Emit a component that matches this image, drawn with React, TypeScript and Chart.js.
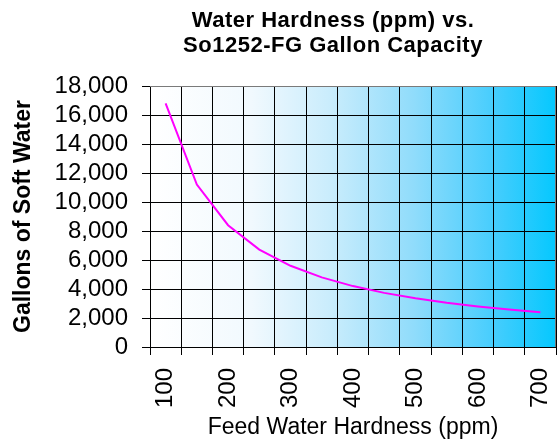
import React, { useEffect, useRef } from 'react';
import { Chart, registerables } from 'chart.js';

Chart.register(...registerables);

const categories = ['100', '150', '200', '250', '300', '350', '400', '450', '500', '550', '600', '650', '700'];
const gallons = [16800, 11200, 8400, 6720, 5600, 4800, 4200, 3733, 3360, 3055, 2800, 2585, 2400];
const xTickLabels = ['100', '200', '300', '400', '500', '600', '700'];
const yMin = 0;
const yMax = 18000;
const yStep = 2000;
const titleLines = ['Water Hardness (ppm) vs.', 'So1252-FG Gallon Capacity'];
const xTitle = 'Feed Water Hardness (ppm)';
const yTitle = 'Gallons of Soft Water';

const FONT = "'Liberation Sans', Arial, Helvetica, sans-serif";

const bgPlugin = {
  id: 'bgGradient',
  beforeDraw(chart: any) {
    const { ctx, chartArea: a, width, height } = chart;
    ctx.save();
    ctx.fillStyle = '#ffffff';
    ctx.fillRect(0, 0, width, height);
    const g = ctx.createLinearGradient(a.left, 0, a.right, 0);
    g.addColorStop(0, '#ffffff');
    g.addColorStop(0.25, '#f1f9fe');
    g.addColorStop(0.45, '#c8ecfc');
    g.addColorStop(0.65, '#90dcfb');
    g.addColorStop(0.85, '#45cdfd');
    g.addColorStop(1, '#05c8fe');
    ctx.fillStyle = g;
    ctx.fillRect(a.left, a.top, a.right - a.left, a.bottom - a.top);
    ctx.restore();
  },
};

const framePlugin = {
  id: 'frameAndTitle',
  afterDraw(chart: any) {
    const { ctx, chartArea: a } = chart;
    ctx.save();
    ctx.strokeStyle = '#7a7a7a';
    ctx.lineWidth = 1;
    ctx.beginPath();
    ctx.moveTo(a.left, Math.round(a.top) + 0.5);
    ctx.lineTo(Math.round(a.right) - 0.5, Math.round(a.top) + 0.5);
    ctx.lineTo(Math.round(a.right) - 0.5, a.bottom);
    ctx.stroke();

    ctx.fillStyle = '#000000';
    ctx.font = `bold 22px ${FONT}`;
    ctx.textAlign = 'center';
    ctx.textBaseline = 'alphabetic';
    try {
      (ctx as any).letterSpacing = '0.5px';
    } catch (e) {}
    ctx.fillText(titleLines[0], 333, 27);
    ctx.fillText(titleLines[1], 333, 52);
    ctx.restore();
  },
};

export default function App() {
  const canvasRef = useRef<HTMLCanvasElement | null>(null);

  useEffect(() => {
    const canvas = canvasRef.current;
    if (!canvas) return;
    const chart = new Chart(canvas, {
      type: 'line',
      data: {
        labels: categories,
        datasets: [
          {
            data: gallons,
            borderColor: '#ff00ff',
            backgroundColor: '#ff00ff',
            borderWidth: 2,
            pointRadius: 0,
            tension: 0,
            fill: false,
          },
        ],
      },
      options: {
        responsive: false,
        animation: false,
        layout: { padding: { top: 86, right: 3, left: 0, bottom: 0 } },
        plugins: {
          legend: { display: false },
          tooltip: { enabled: false },
          title: { display: false },
        },
        scales: {
          x: {
            type: 'category',
            offset: true,
            grid: {
              offset: true,
              color: '#000000',
              lineWidth: 1,
              drawTicks: true,
              tickLength: 8,
              tickColor: '#000000',
            },
            border: { color: '#000000', width: 1 },
            ticks: {
              autoSkip: false,
              maxRotation: 90,
              minRotation: 90,
              padding: 13,
              color: '#000000',
              font: { size: 24, family: FONT },
              callback: (_v: any, i: number) => {
                const l = categories[i];
                return xTickLabels.includes(l) ? l : '';
              },
            },
            title: {
              display: true,
              text: xTitle,
              color: '#000000',
              font: { size: 23, family: FONT },
              padding: { top: 0, bottom: 0 },
            },
            afterFit: (s: any) => {
              s.height = 94;
              s.paddingLeft = 0;
              s.paddingRight = 0;
            },
          },
          y: {
            min: yMin,
            max: yMax,
            grid: {
              color: '#000000',
              lineWidth: 1,
              drawTicks: true,
              tickLength: 8,
              tickColor: '#000000',
            },
            border: { color: '#000000', width: 1 },
            ticks: {
              stepSize: yStep,
              autoSkip: false,
              padding: 14,
              color: '#000000',
              font: { size: 24, family: FONT },
              callback: (v: any) => Number(v).toLocaleString('en-US'),
            },
            title: {
              display: true,
              text: yTitle,
              color: '#000000',
              font: { size: 23, family: FONT, weight: 'bold' },
              padding: { top: 10, bottom: 0 },
            },
            afterFit: (s: any) => {
              s.width = 150;
              s.paddingTop = 0;
              s.paddingBottom = 0;
            },
          },
        },
      },
      plugins: [bgPlugin, framePlugin],
    } as any);
    return () => chart.destroy();
  }, []);

  return (
    <div style={{ position: 'absolute', left: 0, top: 0, width: 559, height: 441 }}>
      <canvas ref={canvasRef} width={559} height={441} />
    </div>
  );
}
